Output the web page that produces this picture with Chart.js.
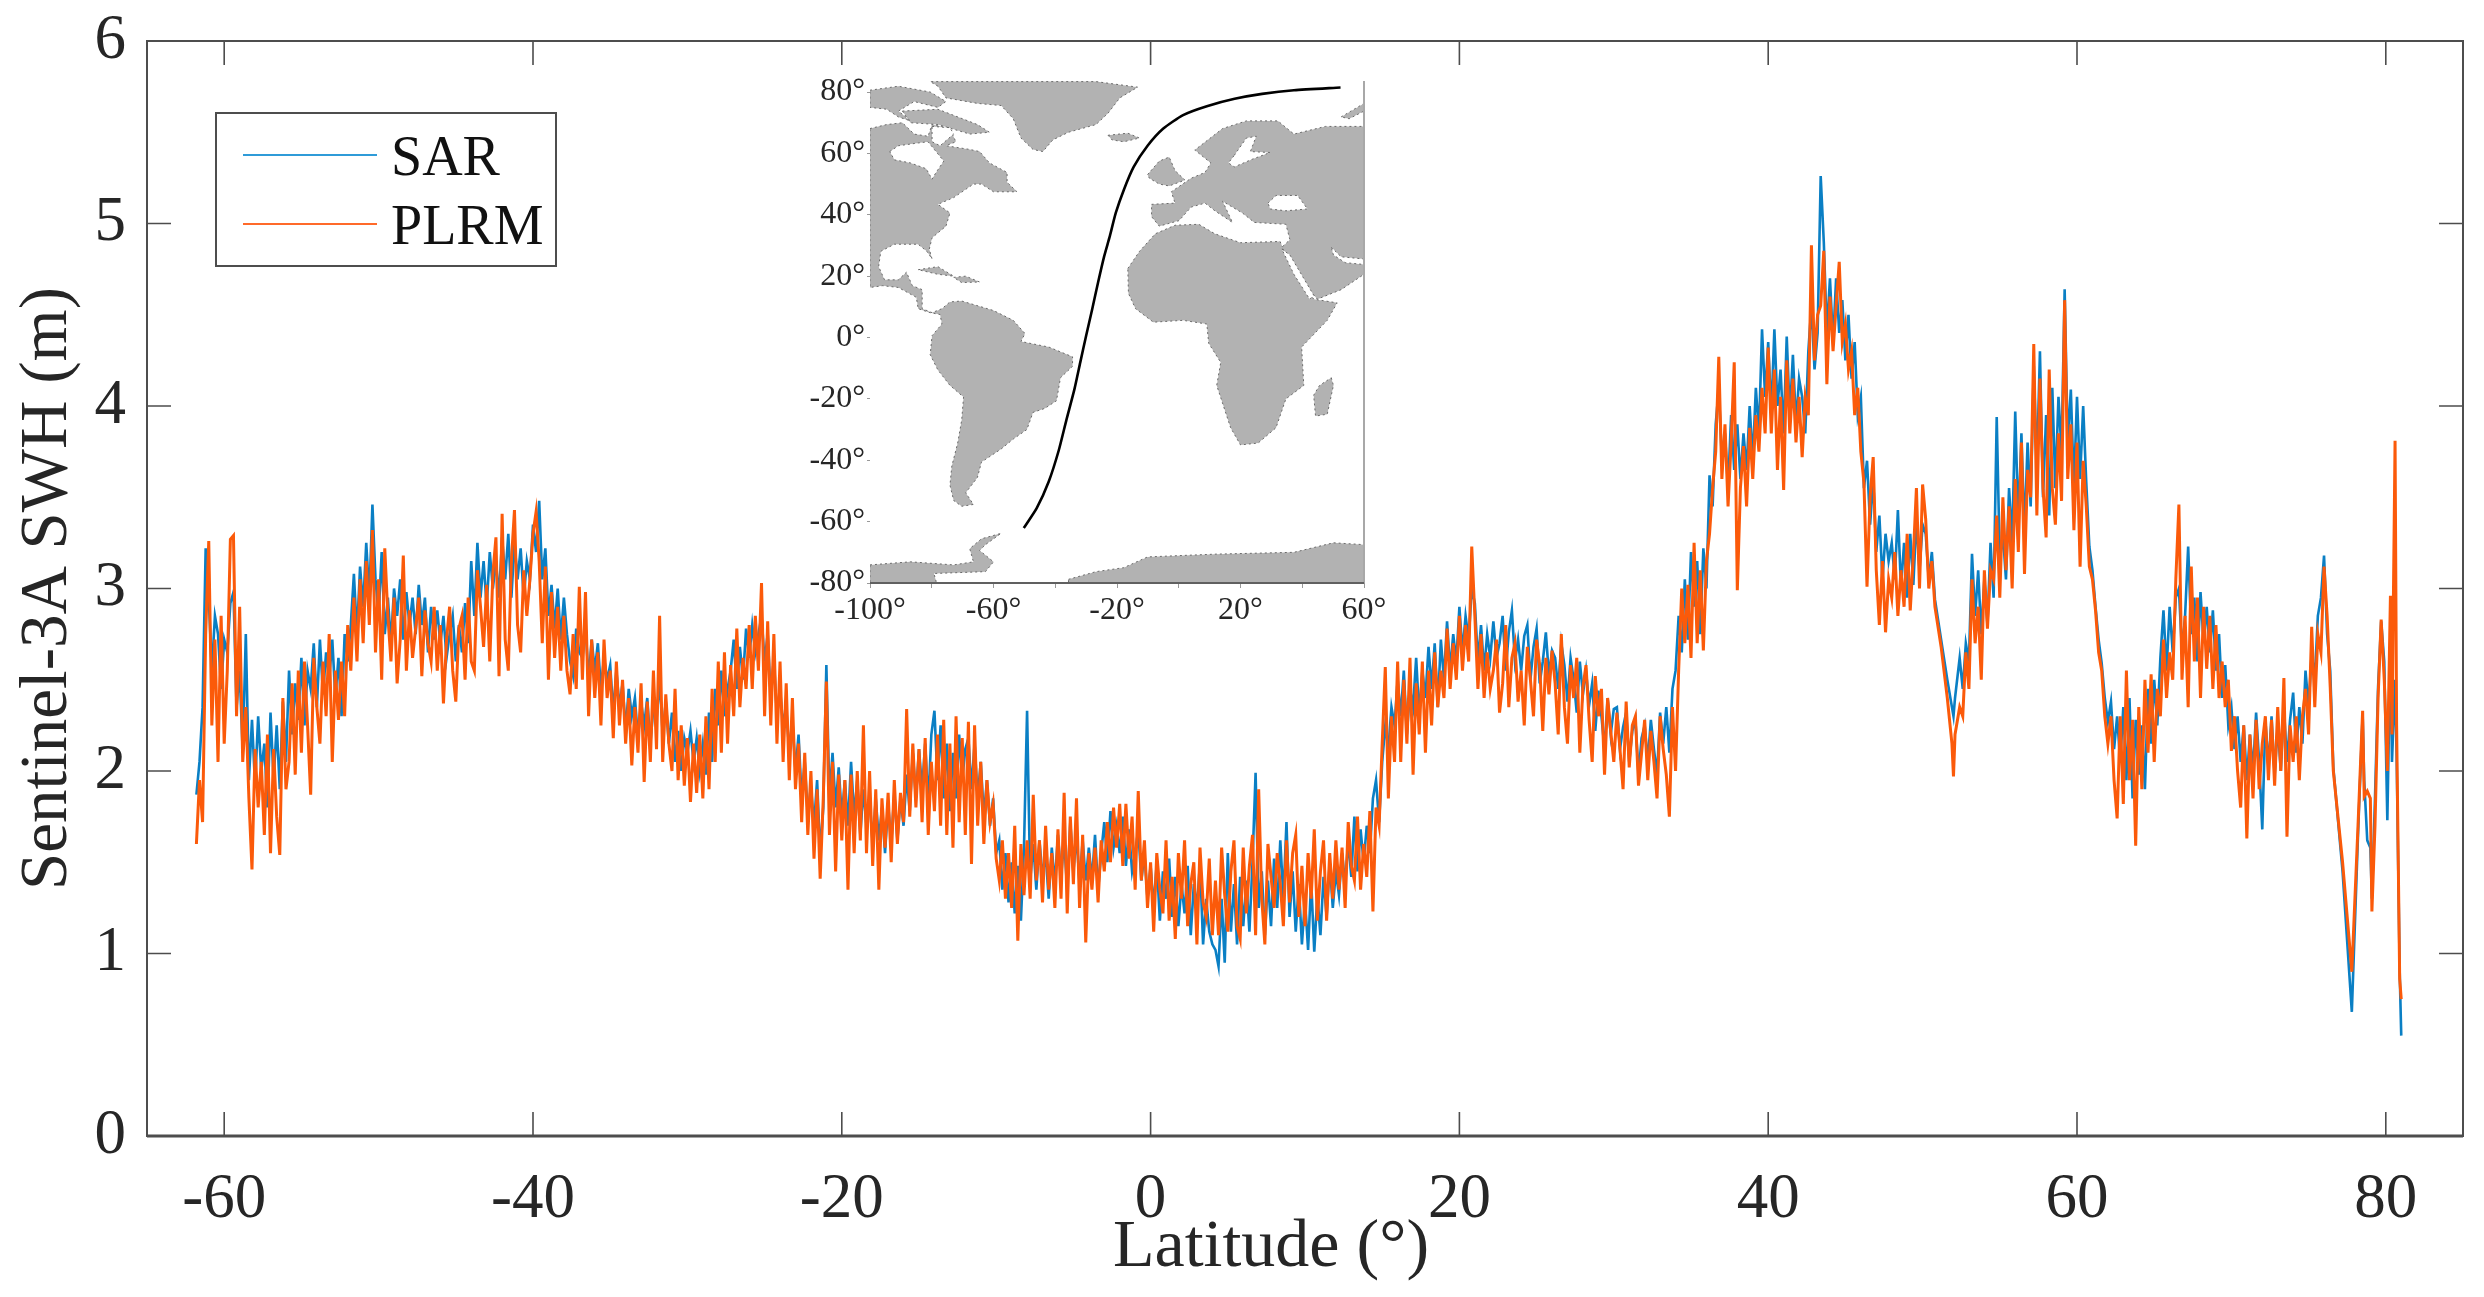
<!DOCTYPE html>
<html>
<head>
<meta charset="utf-8">
<title>Sentinel-3A SWH</title>
<script src="https://cdn.jsdelivr.net/npm/chart.js@4/dist/chart.umd.min.js"></script>
<style>
  html, body { margin: 0; background: #fff; }
  #wrap { position: relative; width: 2484px; height: 1297px; }
  #main { position: absolute; left: 0; top: 0; }
  #inset { position: absolute; left: 785px; top: 60px; }
</style>
</head>
<body>
<div id="wrap">
  <canvas id="main" width="2484" height="1297"></canvas>
  <canvas id="inset" width="640" height="590"></canvas>
</div>
<script>
// valores, fila = 10 muestras
const latitudes = [
-61.8,-61.6,-61.4,-61.2,-61.0,-60.8,-60.6,-60.4,-60.2,-60.0,
-59.8,-59.6,-59.4,-59.2,-59.0,-58.8,-58.6,-58.4,-58.2,-58.0,
-57.8,-57.6,-57.4,-57.2,-57.0,-56.8,-56.6,-56.4,-56.2,-56.0,
-55.8,-55.6,-55.4,-55.2,-55.0,-54.8,-54.6,-54.4,-54.2,-54.0,
-53.8,-53.6,-53.4,-53.2,-53.0,-52.8,-52.6,-52.4,-52.2,-52.0,
-51.8,-51.6,-51.4,-51.2,-51.0,-50.8,-50.6,-50.4,-50.2,-50.0,
-49.8,-49.6,-49.4,-49.2,-49.0,-48.8,-48.6,-48.4,-48.2,-48.0,
-47.8,-47.6,-47.4,-47.2,-47.0,-46.8,-46.6,-46.4,-46.2,-46.0,
-45.8,-45.6,-45.4,-45.2,-45.0,-44.8,-44.6,-44.4,-44.2,-44.0,
-43.8,-43.6,-43.4,-43.2,-43.0,-42.8,-42.6,-42.4,-42.2,-42.0,
-41.8,-41.6,-41.4,-41.2,-41.0,-40.8,-40.6,-40.4,-40.2,-40.0,
-39.8,-39.6,-39.4,-39.2,-39.0,-38.8,-38.6,-38.4,-38.2,-38.0,
-37.8,-37.6,-37.4,-37.2,-37.0,-36.8,-36.6,-36.4,-36.2,-36.0,
-35.8,-35.6,-35.4,-35.2,-35.0,-34.8,-34.6,-34.4,-34.2,-34.0,
-33.8,-33.6,-33.4,-33.2,-33.0,-32.8,-32.6,-32.4,-32.2,-32.0,
-31.8,-31.6,-31.4,-31.2,-31.0,-30.8,-30.6,-30.4,-30.2,-30.0,
-29.8,-29.6,-29.4,-29.2,-29.0,-28.8,-28.6,-28.4,-28.2,-28.0,
-27.8,-27.6,-27.4,-27.2,-27.0,-26.8,-26.6,-26.4,-26.2,-26.0,
-25.8,-25.6,-25.4,-25.2,-25.0,-24.8,-24.6,-24.4,-24.2,-24.0,
-23.8,-23.6,-23.4,-23.2,-23.0,-22.8,-22.6,-22.4,-22.2,-22.0,
-21.8,-21.6,-21.4,-21.2,-21.0,-20.8,-20.6,-20.4,-20.2,-20.0,
-19.8,-19.6,-19.4,-19.2,-19.0,-18.8,-18.6,-18.4,-18.2,-18.0,
-17.8,-17.6,-17.4,-17.2,-17.0,-16.8,-16.6,-16.4,-16.2,-16.0,
-15.8,-15.6,-15.4,-15.2,-15.0,-14.8,-14.6,-14.4,-14.2,-14.0,
-13.8,-13.6,-13.4,-13.2,-13.0,-12.8,-12.6,-12.4,-12.2,-12.0,
-11.8,-11.6,-11.4,-11.2,-11.0,-10.8,-10.6,-10.4,-10.2,-10.0,
-9.8,-9.6,-9.4,-9.2,-9.0,-8.8,-8.6,-8.4,-8.2,-8.0,
-7.8,-7.6,-7.4,-7.2,-7.0,-6.8,-6.6,-6.4,-6.2,-6.0,
-5.8,-5.6,-5.4,-5.2,-5.0,-4.8,-4.6,-4.4,-4.2,-4.0,
-3.8,-3.6,-3.4,-3.2,-3.0,-2.8,-2.6,-2.4,-2.2,-2.0,
-1.8,-1.6,-1.4,-1.2,-1.0,-0.8,-0.6,-0.4,-0.2,0.0,
0.2,0.4,0.6,0.8,1.0,1.2,1.4,1.6,1.8,2.0,
2.2,2.4,2.6,2.8,3.0,3.2,3.4,3.6,3.8,4.0,
4.2,4.4,4.6,4.8,5.0,5.2,5.4,5.6,5.8,6.0,
6.2,6.4,6.6,6.8,7.0,7.2,7.4,7.6,7.8,8.0,
8.2,8.4,8.6,8.8,9.0,9.2,9.4,9.6,9.8,10.0,
10.2,10.4,10.6,10.8,11.0,11.2,11.4,11.6,11.8,12.0,
12.2,12.4,12.6,12.8,13.0,13.2,13.4,13.6,13.8,14.0,
14.2,14.4,14.6,14.8,15.0,15.2,15.4,15.6,15.8,16.0,
16.2,16.4,16.6,16.8,17.0,17.2,17.4,17.6,17.8,18.0,
18.2,18.4,18.6,18.8,19.0,19.2,19.4,19.6,19.8,20.0,
20.2,20.4,20.6,20.8,21.0,21.2,21.4,21.6,21.8,22.0,
22.2,22.4,22.6,22.8,23.0,23.2,23.4,23.6,23.8,24.0,
24.2,24.4,24.6,24.8,25.0,25.2,25.4,25.6,25.8,26.0,
26.2,26.4,26.6,26.8,27.0,27.2,27.4,27.6,27.8,28.0,
28.2,28.4,28.6,28.8,29.0,29.2,29.4,29.6,29.8,30.0,
30.2,30.4,30.6,30.8,31.0,31.2,31.4,31.6,31.8,32.0,
32.2,32.4,32.6,32.8,33.0,33.2,33.4,33.6,33.8,34.0,
34.2,34.4,34.6,34.8,35.0,35.2,35.4,35.6,35.8,36.0,
36.2,36.4,36.6,36.8,37.0,37.2,37.4,37.6,37.8,38.0,
38.2,38.4,38.6,38.8,39.0,39.2,39.4,39.6,39.8,40.0,
40.2,40.4,40.6,40.8,41.0,41.2,41.4,41.6,41.8,42.0,
42.2,42.4,42.6,42.8,43.0,43.2,43.4,43.6,43.8,44.0,
44.2,44.4,44.6,44.8,45.0,45.2,45.4,45.6,45.8,46.0,
46.2,46.4,46.6,46.8,47.0,47.2,47.4,47.6,47.8,48.0,
48.2,48.4,48.6,48.8,49.0,49.2,49.4,49.6,49.8,50.0,
50.2,50.4,50.6,50.8,51.2,51.6,51.9,52.0,52.1,52.4,
52.6,52.8,53.0,53.2,53.4,53.6,53.8,54.0,54.2,54.4,
54.6,54.8,55.0,55.2,55.4,55.6,55.8,56.0,56.2,56.4,
56.6,56.8,57.0,57.2,57.4,57.6,57.8,58.0,58.2,58.4,
58.6,58.8,59.0,59.2,59.4,59.6,59.8,60.0,60.2,60.4,
60.6,60.8,61.0,61.2,61.4,61.6,61.8,62.0,62.2,62.4,
62.6,62.8,63.0,63.2,63.4,63.6,63.8,64.0,64.2,64.4,
64.6,64.8,65.0,65.2,65.4,65.6,65.8,66.0,66.2,66.4,
66.6,66.8,67.0,67.2,67.4,67.6,67.8,68.0,68.2,68.4,
68.6,68.8,69.0,69.2,69.4,69.6,69.8,70.0,70.2,70.4,
70.6,70.8,71.0,71.2,71.4,71.6,71.8,72.0,72.2,72.4,
72.6,72.8,73.0,73.2,73.4,73.6,73.8,74.0,74.2,74.4,
74.6,74.8,75.0,75.2,75.4,75.6,75.8,76.0,76.2,76.4,
76.6,77.2,77.8,78.2,78.5,78.6,78.8,79.0,79.1,79.3,
79.5,79.7,79.9,80.1,80.3,80.4,80.6,80.7,80.9,81.0
];
const sarSwh = [
1.87,2.05,2.35,3.22,2.95,2.55,2.85,2.75,2.45,2.72,
2.65,2.92,2.98,2.35,2.55,2.10,2.75,1.95,2.28,1.92,
2.30,2.00,2.15,1.80,2.32,1.95,2.25,1.90,2.38,2.05,
2.55,2.20,2.48,2.28,2.62,2.25,2.55,2.45,2.70,2.35,
2.72,2.42,2.65,2.50,2.72,2.40,2.62,2.30,2.75,2.60,
2.80,3.08,2.75,3.12,2.90,3.25,2.95,3.46,3.05,2.85,
3.20,2.75,2.95,2.70,3.00,2.85,3.05,2.72,2.98,2.80,
2.95,2.75,3.02,2.80,2.95,2.65,2.90,2.72,2.88,2.70,
2.85,2.62,2.75,2.85,2.60,2.80,2.65,2.92,2.70,3.15,
2.85,3.25,2.95,3.15,2.90,3.20,3.00,3.15,2.95,3.28,
3.05,3.30,2.95,3.25,3.05,3.22,2.95,3.15,3.05,3.35,
3.20,3.48,3.05,3.22,2.85,3.02,2.78,3.00,2.72,2.95,
2.75,2.60,2.52,2.78,2.65,2.62,2.80,2.50,2.72,2.55,
2.70,2.45,2.62,2.50,2.58,2.32,2.55,2.35,2.48,2.22,
2.45,2.30,2.40,2.18,2.38,2.25,2.40,2.15,2.35,2.28,
2.50,2.20,2.38,2.15,2.32,2.05,2.22,2.00,2.18,2.10,
2.22,2.05,2.18,2.00,2.15,1.98,2.32,2.05,2.45,2.25,
2.55,2.30,2.45,2.55,2.72,2.45,2.68,2.50,2.78,2.62,
2.80,2.65,2.75,2.85,2.60,2.75,2.40,2.62,2.30,2.45,
2.25,2.35,2.10,2.28,2.00,2.20,1.85,2.05,1.75,1.92,
1.70,1.95,1.55,1.80,2.58,1.85,2.10,1.80,2.02,1.75,
1.95,1.70,2.05,1.75,1.95,1.65,1.90,1.70,1.85,1.60,
1.85,1.62,1.80,1.55,1.82,1.60,1.88,1.62,1.85,1.70,
1.98,1.78,2.10,1.85,2.12,1.90,2.15,1.82,2.20,2.33,
1.95,2.25,1.85,2.15,1.78,2.10,1.85,2.20,1.95,2.12,
2.18,1.90,2.15,1.85,2.05,1.75,1.95,1.70,1.85,1.55,
1.62,1.35,1.55,1.28,1.50,1.22,1.48,1.18,1.58,2.33,
1.40,1.60,1.35,1.62,1.42,1.55,1.30,1.58,1.38,1.65,
1.42,1.62,1.35,1.72,1.45,1.65,1.38,1.62,1.40,1.58,
1.40,1.65,1.35,1.55,1.72,1.50,1.78,1.58,1.70,1.55,
1.75,1.48,1.68,1.45,1.55,1.68,1.40,1.55,1.30,1.48,
1.25,1.50,1.18,1.45,1.30,1.52,1.20,1.42,1.15,1.38,
1.22,1.48,1.10,1.38,1.25,1.50,1.05,1.30,1.12,1.05,
1.02,0.93,1.30,0.95,1.55,1.12,1.38,1.05,1.42,1.15,
1.40,1.12,1.50,1.99,1.25,1.45,1.10,1.40,1.15,1.52,
1.25,1.62,1.30,1.72,1.20,1.45,1.12,1.38,1.05,1.30,
1.02,1.40,1.01,1.32,1.10,1.42,1.20,1.50,1.25,1.45,
1.32,1.55,1.38,1.62,1.42,1.75,1.45,1.68,1.50,1.70,
1.55,1.85,1.95,1.72,2.05,2.25,2.12,2.35,2.25,2.50,
2.30,2.55,2.20,2.45,2.35,2.62,2.30,2.55,2.40,2.68,
2.45,2.70,2.35,2.72,2.50,2.82,2.55,2.75,2.60,2.90,
2.65,2.85,2.72,3.00,2.92,2.60,2.80,2.55,2.75,2.62,
2.82,2.62,2.70,2.85,2.55,2.76,2.88,2.60,2.72,2.55,
2.74,2.80,2.50,2.68,2.78,2.48,2.60,2.76,2.52,2.66,
2.62,2.45,2.70,2.58,2.38,2.62,2.50,2.32,2.60,2.42,
2.55,2.36,2.48,2.22,2.44,2.30,2.12,2.40,2.20,2.34,
2.35,2.12,2.24,2.32,2.05,2.22,2.28,1.98,2.18,2.25,
2.05,2.28,2.12,1.98,2.32,2.15,2.35,2.10,2.45,2.55,
2.85,2.65,3.05,2.72,3.20,2.90,3.15,2.75,3.22,3.00,
3.62,3.45,3.90,4.10,3.70,3.85,3.55,3.95,3.65,3.90,
3.60,3.85,3.65,4.00,3.70,4.10,3.85,4.42,4.05,4.35,
3.95,4.42,4.00,4.20,3.85,4.38,3.95,4.28,3.90,4.15,
4.05,3.85,4.30,4.55,4.20,4.40,5.26,4.90,4.40,4.70,
4.35,4.70,4.40,4.58,4.25,4.50,4.15,4.35,3.95,4.05,
3.55,3.70,3.35,3.60,3.20,3.40,3.05,3.30,3.15,3.25,
3.05,3.43,3.00,3.25,2.95,3.30,3.02,3.38,3.10,3.35,
3.30,3.05,3.20,2.94,2.72,2.50,2.35,2.30,2.40,2.62,
2.45,2.70,2.60,3.19,2.85,3.10,2.75,3.05,2.80,3.25,
2.95,3.94,3.15,3.30,3.05,3.55,3.25,3.97,3.35,3.85,
3.30,3.80,3.45,4.22,3.65,4.30,3.50,3.95,3.40,4.10,
3.55,4.05,3.75,4.64,3.80,4.09,3.55,4.05,3.60,4.00,
3.58,3.23,3.10,2.90,2.72,2.59,2.40,2.27,2.38,2.12,
2.30,2.05,2.35,1.95,2.40,1.85,2.28,1.98,2.25,1.90,
2.45,2.15,2.50,2.25,2.62,2.88,2.55,2.90,2.65,2.95,
3.00,2.65,2.85,3.23,2.75,2.95,2.60,2.98,2.70,2.90,
2.65,2.88,2.55,2.75,2.40,2.58,2.25,2.35,2.12,2.30,
2.05,2.25,1.95,2.20,2.00,2.32,2.05,1.68,2.28,2.02,
2.30,1.98,2.25,2.00,2.35,2.05,2.28,2.43,2.10,2.35,
2.15,2.55,2.35,2.65,2.50,2.85,2.95,3.18,2.75,2.55,
2.02,1.45,0.68,1.65,2.31,1.95,1.62,1.58,1.30,1.85,
2.46,2.82,2.60,1.73,2.70,2.05,2.50,2.10,0.90,0.55
];
const plrmSwh = [
1.60,1.95,1.72,2.75,3.26,2.25,2.72,2.05,2.85,2.15,
2.55,3.27,3.29,2.30,2.90,2.05,2.35,1.85,1.46,2.12,
1.80,2.05,1.65,2.20,1.55,2.12,1.75,1.54,2.40,1.90,
2.05,2.48,1.98,2.55,2.10,2.60,2.25,1.87,2.62,2.35,
2.15,2.60,2.30,2.75,2.05,2.55,2.28,2.60,2.30,2.80,
2.55,2.95,2.60,3.05,2.70,3.15,2.80,3.32,2.65,3.05,
2.50,3.22,2.85,2.60,2.95,2.48,2.72,3.18,2.55,2.88,
2.62,2.78,2.95,2.52,2.88,2.70,2.60,2.90,2.55,2.80,
2.37,2.72,2.90,2.55,2.38,2.78,2.85,2.50,2.95,2.60,
2.55,3.10,2.90,2.68,3.02,2.60,3.08,3.28,2.52,3.41,
2.72,2.55,3.15,3.43,2.80,2.65,3.10,2.85,3.05,3.30,
3.42,3.15,2.70,3.12,2.50,2.98,2.62,2.90,2.55,2.85,
2.55,2.42,2.75,2.45,3.01,2.50,2.98,2.30,2.72,2.40,
2.65,2.25,2.72,2.40,2.55,2.18,2.60,2.25,2.50,2.15,
2.40,2.03,2.35,2.10,2.48,1.94,2.38,2.05,2.55,2.12,
2.85,2.05,2.42,2.15,2.00,2.45,1.95,2.25,1.92,2.18,
1.83,2.15,1.88,2.20,1.85,2.30,1.90,2.45,2.05,2.60,
2.10,2.65,2.15,2.58,2.30,2.78,2.35,2.62,2.45,2.80,
2.45,2.85,2.55,3.03,2.30,2.82,2.25,2.75,2.15,2.60,
2.05,2.48,1.95,2.40,1.90,2.15,1.72,2.10,1.65,2.00,
1.52,1.90,1.41,1.85,2.49,1.65,2.05,1.45,1.98,1.62,
1.95,1.35,1.98,1.55,2.00,1.62,2.25,1.55,2.00,1.48,
1.90,1.35,1.85,1.58,1.88,1.50,1.95,1.60,1.88,1.72,
2.34,1.75,2.15,1.80,2.12,1.72,2.18,1.65,2.05,1.78,
2.20,1.70,2.28,1.65,2.15,1.58,2.30,1.72,2.18,1.65,
2.27,1.49,2.25,1.70,2.05,1.60,1.95,1.72,1.82,1.52,
1.40,1.62,1.30,1.55,1.25,1.70,1.07,1.60,1.32,1.62,
1.30,1.87,1.40,1.62,1.28,1.70,1.35,1.55,1.25,1.68,
1.30,1.88,1.22,1.75,1.38,1.85,1.25,1.65,1.06,1.55,
1.35,1.58,1.28,1.62,1.45,1.72,1.50,1.80,1.58,1.82,
1.48,1.82,1.52,1.75,1.35,1.89,1.40,1.62,1.25,1.50,
1.12,1.55,1.35,1.22,1.62,1.18,1.42,1.08,1.55,1.30,
1.62,1.15,1.38,1.50,1.05,1.58,1.28,1.20,1.52,1.10,
1.40,1.10,1.58,1.32,1.12,1.45,1.62,1.15,1.08,1.58,
1.22,1.48,1.65,1.10,1.90,1.30,1.05,1.60,1.42,1.25,
1.55,1.38,1.15,1.62,1.28,1.55,1.65,1.20,1.48,1.15,
1.55,1.30,1.68,1.18,1.45,1.62,1.18,1.55,1.30,1.62,
1.35,1.58,1.25,1.72,1.48,1.40,1.75,1.35,1.60,1.42,
1.78,1.23,1.80,1.70,2.15,2.57,1.85,2.30,2.05,2.60,
2.05,2.50,2.15,2.62,1.98,2.48,2.20,2.60,2.10,2.55,
2.25,2.65,2.35,2.55,2.40,2.78,2.45,2.70,2.50,2.85,
2.55,2.80,2.60,3.23,2.85,2.45,2.75,2.40,2.65,2.45,
2.55,2.72,2.32,2.48,2.80,2.35,2.62,2.70,2.38,2.55,
2.25,2.68,2.50,2.30,2.72,2.58,2.22,2.62,2.42,2.66,
2.48,2.20,2.75,2.35,2.15,2.58,2.40,2.62,2.10,2.46,
2.58,2.28,2.05,2.52,2.30,2.45,1.98,2.40,2.22,2.05,
2.32,2.12,1.90,2.38,2.02,2.25,2.30,1.92,2.10,2.28,
1.95,2.22,2.05,1.85,2.30,2.12,1.98,1.75,2.35,2.00,
2.55,3.00,2.70,3.02,2.62,3.25,2.70,3.10,2.66,3.15,
3.30,3.55,3.75,4.27,3.60,3.90,3.45,3.80,4.24,2.99,
3.55,3.78,3.45,3.88,3.60,3.95,3.75,4.10,3.85,4.32,
3.85,4.20,3.65,4.05,3.54,4.25,3.85,4.15,3.80,4.05,
3.72,4.05,3.95,4.88,4.25,4.50,4.55,4.85,4.12,4.60,
4.30,4.55,4.79,4.35,4.45,4.20,4.30,3.95,4.10,3.75,
3.58,3.01,3.50,3.72,3.10,2.80,3.15,2.76,3.05,2.95,
3.20,2.85,3.10,2.90,3.30,2.88,3.18,3.55,3.00,3.57,
3.38,3.00,3.15,2.90,2.68,2.40,2.15,1.97,2.20,2.35,
2.30,2.65,2.45,3.05,2.70,2.90,2.50,3.10,2.78,3.10,
3.05,3.40,2.95,3.50,3.10,3.45,3.00,3.60,3.20,3.80,
3.08,3.65,3.50,4.34,3.40,4.15,3.55,3.28,4.20,3.55,
3.35,3.85,3.48,4.58,3.60,3.90,3.32,3.80,3.12,3.70,
3.45,3.12,3.05,2.88,2.65,2.55,2.30,2.15,2.30,1.95,
1.74,2.30,1.82,2.55,1.95,2.28,1.59,2.35,1.90,2.50,
2.10,2.53,2.05,2.45,2.30,2.72,2.40,2.65,2.50,3.05,
3.46,2.50,2.85,2.35,3.12,2.60,2.95,2.40,2.90,2.56,
2.85,2.45,2.80,2.40,2.60,2.35,2.50,2.11,2.30,2.00,
1.80,2.25,1.63,2.20,1.85,2.28,1.90,2.15,2.30,1.95,
2.28,1.92,2.35,2.00,2.51,1.64,2.25,2.05,2.30,1.95,
2.30,2.45,2.20,2.79,2.35,2.75,2.65,3.12,2.85,2.46,
2.00,1.50,0.90,1.70,2.33,1.86,1.89,1.85,1.23,1.70,
2.40,2.83,2.50,2.00,2.96,2.20,3.81,2.25,0.86,0.75
];
const xTickValues = [-60, -40, -20, 0, 20, 40, 60, 80];
const yTickValues = [0, 1, 2, 3, 4, 5, 6];
const seriesNames = ['SAR', 'PLRM'];
const seriesColors = ['#0a7fc4', '#fb5a0a'];

// mapa del recuadro: [lon, lat]
const americas = [[-100,68.1],[-94.6,69.4],[-89.5,70],[-85.7,66.3],[-81.2,65.6],[-79.9,69.4],[-74.1,68.1],[-72.2,63.8],[-75.4,62.5],[-67.7,61.3],[-64.5,60.6],[-61.3,56.9],[-55.6,53.8],[-55.6,50.6],[-52.4,47.5],[-60,47.5],[-63.9,50],[-66.5,50],[-72.9,45.6],[-78,43.4],[-74.1,40.6],[-75.4,36.3],[-79.9,32.5],[-80.8,28.8],[-79.9,25.6],[-81.6,28.1],[-84.4,30.4],[-92.1,30.4],[-96.5,28.1],[-97.2,23.1],[-95.3,18.8],[-90.8,18.8],[-88.2,21.3],[-86.3,16.9],[-83.1,15.6],[-83.1,9.4],[-79.9,8.1],[-76.7,9.4],[-74.1,11.6],[-70.3,11.9],[-60,8.8],[-53.6,5.6],[-49.8,1.3],[-51.1,-1.3],[-42.1,-3.1],[-34.4,-6.3],[-34.4,-9.4],[-38.3,-13.1],[-39.6,-20.6],[-43.4,-23.1],[-47.2,-24.4],[-49.2,-30],[-53.6,-33.1],[-57.5,-36.3],[-63.9,-40.6],[-65.2,-45.6],[-69,-50.6],[-66.5,-54.4],[-70.3,-55],[-72.9,-53.1],[-74.1,-48.1],[-73.5,-41.9],[-71.6,-34.4],[-70.3,-26.9],[-69.7,-19.4],[-74.1,-15.6],[-78,-10.6],[-80.5,-5.6],[-79.9,0.6],[-76.7,4.4],[-77.3,7.5],[-80.5,8.1],[-84.4,9.4],[-85,13.1],[-90.8,16.3],[-95.9,16.9],[-100,16.3],[-100,68.1]];
const greenland = [[-78,81.9],[-80.5,83.4],[-26.8,83.4],[-13.3,81.6],[-19.1,78.1],[-22.9,73.1],[-26.8,69.4],[-35.7,66.9],[-40.8,64.4],[-44,60.6],[-47.2,61.3],[-51.1,65],[-53.6,71.3],[-57.5,75.6],[-65.2,76.3],[-75.4,78.1],[-78,81.9]];
const arcticIslands = [[-100,80.6],[-90.8,81.9],[-80.5,80],[-75.4,76.9],[-78,75],[-85.7,76.9],[-90.8,73.8],[-86.9,70.6],[-90.8,71.9],[-94.6,74.4],[-100,75],[-100,80.6]];
const baffin = [[-89.5,73.8],[-78,74.4],[-65.2,69.4],[-61.3,66.9],[-67.7,66.3],[-78,69.4],[-86.9,70],[-89.5,73.8]];
const iceland = [[-22.9,65.9],[-16.5,66.6],[-12.7,65],[-17.8,63.8],[-21.6,64.4],[-22.9,65.9]];
const britain = [[-10.1,53.1],[-6.3,57.5],[-3.1,58.8],[-1.2,54.4],[2,51.3],[-3.1,49.4],[-6.3,50],[-9.5,51.9],[-10.1,53.1]];
const eurasia = [[-8.8,43.4],[-1.2,43.8],[-2.4,47.5],[4,51.9],[8.5,53.8],[10.4,56.9],[5.2,61.1],[14.2,68.1],[21.9,70.6],[32.1,70.6],[37.3,66.3],[47.5,68.8],[60,68.8],[60,25],[60,20.6],[52.6,15.6],[44.9,12.5],[41.1,16.9],[33.4,29.4],[36,31.9],[34.7,36.9],[24.5,37.5],[20.6,40.6],[14.2,44.4],[17.4,37.5],[11.7,41.3],[8.5,43.8],[4,42.5],[0.1,38.1],[-6.3,36.3],[-8.8,39.4],[-8.8,43.4]];
const africa = [[-16.5,22.5],[-12.7,28.1],[-7.6,33.8],[-1.2,36.6],[6.5,36.9],[11.7,33.8],[20,30.9],[32.8,31.3],[36,24.4],[43.7,12.5],[51.3,11.3],[48.1,5.6],[39.8,-3.1],[40.5,-15.6],[34.7,-20],[31.5,-29.4],[25.7,-34.4],[20,-35],[16.8,-29.4],[12.3,-15.6],[13.6,-8.1],[9.7,-1.9],[9.1,4.4],[1.4,5.6],[-8.2,5],[-14,9.4],[-16.3,14.4],[-16.5,22.5]];
const madagascar = [[49.4,-13.1],[50.1,-15.6],[48.1,-25],[44.3,-25.6],[43.7,-18.8],[45.6,-15.6],[49.4,-13.1]];
const antarcticWest = [[-100,-74.1],[-86.9,-73.1],[-72.9,-74.1],[-66.5,-73.1],[-67.7,-68.8],[-63.9,-65.6],[-57.5,-63.8],[-62.6,-67.5],[-64.5,-69.4],[-60,-73.1],[-62.6,-76.3],[-79.3,-76.9],[-78.6,-79.4],[-78.6,-80],[-100,-80],[-100,-74.1]];
const antarcticEast = [[-35.7,-78.8],[-26.8,-76.3],[-17.8,-75],[-10.1,-71.5],[11.7,-70.6],[37.3,-70],[50.1,-66.9],[60,-67.5],[60,-80],[-35.7,-80],[-35.7,-78.8]];
const novaya = [[52.6,71.9],[60,76.3],[60,73.8],[55.2,71.3],[52.6,71.9]];
const cuba = [[-84.4,22.1],[-78,23.1],[-72.9,20],[-78,20.6],[-84.4,22.1]];
const hispaniola = [[-72.9,19.6],[-69,20],[-64.5,18.1],[-70.3,17.9],[-72.9,19.6]];
const hudsonBay = [[-93.6,60.6],[-90.8,62.5],[-84.4,63.4],[-81.2,63.8],[-76.1,57.5],[-78.6,53.8],[-79.9,51.6],[-81.8,55],[-86.9,56.9],[-92.1,57.9],[-93.6,60.6]];
const foxeBasin = [[-79.9,68.8],[-74.1,68.4],[-72.9,66.3],[-77.3,62.5],[-79.9,63.8],[-79.9,68.8]];
const baltic = [[18,59.4],[21.9,65],[25.1,65.6],[23.2,60.6],[29.6,60.3],[23.8,58.1],[18,55.6],[16.1,56.9],[18,59.4]];
const blackSea = [[28.9,43.8],[31.5,46.3],[38.5,46.3],[41.7,41.9],[34.7,41.3],[29.6,41.9],[28.9,43.8]];
const redSea = [[33.4,28.8],[36,26.9],[43.7,13.8],[42.4,12.5],[37.3,20.6],[33.4,28.8]];
const persianGulf = [[49.4,29.4],[52.6,26.3],[60,25.6],[60,23.8],[53.9,24.4],[50.1,26.9],[49.4,29.4]];
const trackLine = [[-50.2,-62.1],[-46,-55.6],[-42.1,-46.9],[-38.9,-36.9],[-36.4,-26.9],[-33.8,-16.9],[-31.9,-8.1],[-30,0.6],[-28,9.4],[-26.1,18.1],[-24.2,26.3],[-22.3,33.1],[-20.4,40.6],[-17.8,48.1],[-14.6,55.6],[-10.1,62.5],[-5,68.1],[1.4,72.5],[9.1,75.4],[18.1,77.8],[27,79.4],[37.3,80.6],[52.4,81.5]];
const landShapes = [americas, greenland, arcticIslands, baffin, iceland, britain, eurasia, africa, madagascar, antarcticWest, antarcticEast, novaya, cuba, hispaniola];
const seaShapes = [hudsonBay, foxeBasin, baltic, blackSea, redSea, persianGulf];
const insetLonTicks = [-100, -80, -60, -40, -20, 0, 20, 40, 60];
const insetLonLabels = [-100, -60, -20, 20, 60];
const insetLatTicks = [-80, -60, -40, -20, 0, 20, 40, 60, 80];

const serif = 'Liberation Serif';
const axisColor = '#4d4d4d';
const textColor = '#262626';

function toPoints(pairs) {
  return pairs.map(p => ({ x: p[0], y: p[1] }));
}

function serie(index, values, order, width) {
  return {
    label: seriesNames[index],
    data: latitudes.map((lat, i) => ({ x: lat, y: values[i] })),
    borderColor: seriesColors[index],
    backgroundColor: seriesColors[index],
    borderWidth: width,
    order,
    pointRadius: 0,
    tension: 0,
    fill: false
  };
}

// caja y ticks hacia dentro en los cuatro lados, y la leyenda
const boxPlugin = {
  id: 'boxPlugin',
  afterDraw(chart) {
    const { ctx, chartArea: a, scales } = chart;
    ctx.save();
    ctx.strokeStyle = axisColor;
    ctx.lineWidth = 2;
    ctx.strokeRect(a.left, a.top, a.right - a.left, a.bottom - a.top);
    ctx.lineWidth = 3;
    ctx.beginPath();
    ctx.moveTo(a.left, a.bottom);
    ctx.lineTo(a.right, a.bottom);
    ctx.stroke();
    ctx.lineWidth = 1.6;
    ctx.beginPath();
    xTickValues.forEach(v => {
      const x = scales.x.getPixelForValue(v);
      ctx.moveTo(x, a.bottom); ctx.lineTo(x, a.bottom - 24);
      ctx.moveTo(x, a.top); ctx.lineTo(x, a.top + 24);
    });
    yTickValues.slice(1, -1).forEach(v => {
      const y = scales.y.getPixelForValue(v);
      ctx.moveTo(a.left, y); ctx.lineTo(a.left + 24, y);
      ctx.moveTo(a.right, y); ctx.lineTo(a.right - 24, y);
    });
    ctx.stroke();

    // leyenda
    ctx.lineWidth = 2;
    ctx.strokeStyle = axisColor;
    ctx.fillStyle = '#fff';
    ctx.fillRect(216, 113, 340, 153);
    ctx.strokeRect(216, 113, 340, 153);
    ctx.font = '56px "' + serif + '"';
    ctx.textBaseline = 'middle';
    ctx.textAlign = 'left';
    seriesNames.forEach((name, i) => {
      const y = 155 + i * 69;
      ctx.strokeStyle = i === 0 ? '#2f9bd8' : '#ff6a2a';
      ctx.beginPath();
      ctx.moveTo(243, y);
      ctx.lineTo(377, y);
      ctx.stroke();
      ctx.fillStyle = '#111';
      ctx.fillText(name, 391, y + 5);
    });
    ctx.restore();
  }
};

new Chart(document.getElementById('main'), {
  type: 'line',
  data: { datasets: [serie(0, sarSwh, 2, 2.6), serie(1, plrmSwh, 1, 3)] },
  options: {
    responsive: false,
    animation: false,
    devicePixelRatio: 1,
    layout: { padding: { top: 41, right: 21, left: 0, bottom: 0 } },
    plugins: { legend: { display: false }, tooltip: { enabled: false } },
    scales: {
      x: {
        type: 'linear',
        min: -65,
        max: 85,
        grid: { display: false },
        border: { display: false },
        afterBuildTicks: s => { s.ticks = xTickValues.map(value => ({ value })); },
        afterFit: s => { s.height = 161; s.paddingLeft = 0; s.paddingRight = 0; },
        ticks: { color: textColor, padding: 19, maxRotation: 0, autoSkip: false, font: { family: serif, size: 63 } },
        title: { display: true, text: 'Latitude (°)    ', color: textColor, padding: { top: 0, bottom: 8 }, font: { family: serif, size: 68 } }
      },
      y: {
        type: 'linear',
        min: 0,
        max: 6,
        grid: { display: false },
        border: { display: false },
        afterBuildTicks: s => { s.ticks = yTickValues.map(value => ({ value })); },
        afterFit: s => { s.width = 147; s.paddingTop = 0; s.paddingBottom = 0; },
        ticks: { color: textColor, padding: 13, font: { family: serif, size: 63 } },
        title: { display: true, text: 'Sentinel-3A SWH (m)', color: textColor, padding: { top: 8, bottom: 0 }, font: { family: serif, size: 67 } }
      }
    }
  },
  plugins: [boxPlugin]
});

function shapeSet(pairs, color) {
  return {
    data: toPoints(pairs),
    showLine: true,
    fill: 'shape',
    backgroundColor: color,
    borderColor: '#6a6a6a',
    borderWidth: 1,
    borderDash: [2, 3],
    pointRadius: 0,
    tension: 0
  };
}

// lineas del borde del mapa
const insetEdges = {
  id: 'insetEdges',
  afterDraw(chart) {
    const { ctx, chartArea: a } = chart;
    ctx.save();
    ctx.strokeStyle = '#a8a8a8';
    ctx.lineWidth = 2;
    ctx.beginPath();
    ctx.moveTo(a.right, a.top); ctx.lineTo(a.right, a.bottom);
    ctx.stroke();
    ctx.strokeStyle = '#606060';
    ctx.beginPath();
    ctx.moveTo(a.left, a.bottom); ctx.lineTo(a.right, a.bottom);
    ctx.stroke();
    ctx.restore();
  }
};

// el primer dataset se pinta encima: primero la traza, luego mares, luego tierra
new Chart(document.getElementById('inset'), {
  type: 'scatter',
  data: {
    datasets: [
      { data: toPoints(trackLine), showLine: true, fill: false, borderColor: '#000', borderWidth: 2.6, pointRadius: 0, tension: 0.2 },
      ...seaShapes.map(s => shapeSet(s, '#ffffff')),
      ...landShapes.map(s => shapeSet(s, '#b2b2b2'))
    ]
  },
  options: {
    responsive: false,
    animation: false,
    devicePixelRatio: 1,
    layout: { padding: { top: 21, right: 61, left: 0, bottom: 0 } },
    plugins: { legend: { display: false }, tooltip: { enabled: false } },
    scales: {
      x: {
        type: 'linear',
        min: -100,
        max: 60,
        border: { display: false },
        grid: { drawOnChartArea: false, drawTicks: true, tickLength: 5, color: '#999' },
        afterBuildTicks: s => { s.ticks = insetLonTicks.map(value => ({ value })); },
        afterFit: s => { s.height = 67; s.paddingLeft = 0; s.paddingRight = 0; },
        ticks: {
          color: textColor, padding: 3, maxRotation: 0, autoSkip: false,
          font: { family: serif, size: 32 },
          callback: v => insetLonLabels.includes(v) ? v + '°' : ''
        }
      },
      y: {
        type: 'linear',
        min: -80,
        max: 83.6,
        border: { display: false },
        grid: { drawOnChartArea: false, drawTicks: true, tickLength: 3, color: '#999' },
        afterBuildTicks: s => { s.ticks = insetLatTicks.map(value => ({ value })); },
        afterFit: s => { s.width = 85; s.paddingTop = 0; s.paddingBottom = 0; },
        ticks: {
          color: textColor, padding: 2, autoSkip: false,
          font: { family: serif, size: 32 },
          callback: v => v + '°'
        }
      }
    }
  },
  plugins: [insetEdges]
});
</script>
</body>
</html>
